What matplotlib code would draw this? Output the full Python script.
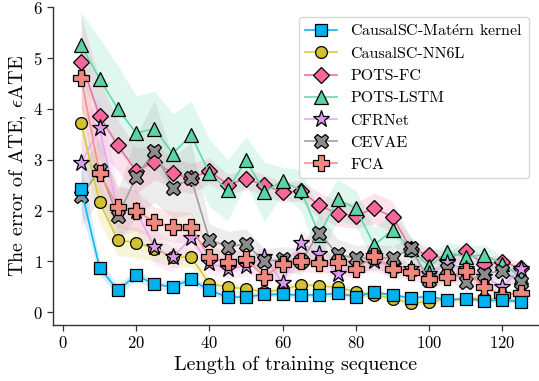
import matplotlib
matplotlib.use('Agg')
import matplotlib.pyplot as plt
import numpy as np

plt.rcParams['font.family'] = ['cmr10', 'DejaVu Serif']
plt.rcParams['mathtext.fontset'] = 'cm'
plt.rcParams['axes.formatter.use_mathtext'] = True

lengths = list(range(5, 130, 5))

# mean error per method
matern = [2.42, 0.88, 0.43, 0.73, 0.55, 0.50, 0.65, 0.43, 0.30, 0.30, 0.35, 0.35, 0.34,
          0.34, 0.37, 0.31, 0.39, 0.34, 0.28, 0.31, 0.24, 0.27, 0.23, 0.24, 0.21]
nn6l = [3.72, 2.16, 1.42, 1.37, 1.25, 1.08, 1.09, 0.56, 0.50, 0.46, 0.40, 0.45, 0.54,
        0.52, 0.49, 0.40, 0.34, 0.27, 0.18, 0.21, 0.25, 0.26, 0.28, 0.25, 0.22]
pots_fc = [4.92, 3.86, 3.28, 2.78, 2.96, 2.73, 2.63, 2.78, 2.51, 2.62, 2.50, 2.36, 2.39,
           2.10, 1.94, 1.90, 2.04, 1.88, 1.25, 1.12, 1.05, 1.20, 0.95, 0.99, 0.87]
pots_lstm = [5.25, 4.59, 4.00, 3.52, 3.61, 3.12, 3.48, 2.74, 2.40, 2.99, 2.37, 2.58, 2.40,
             1.52, 2.22, 2.04, 1.32, 1.62, 1.25, 0.90, 1.18, 1.09, 1.13, 0.95, 0.70]
cfrnet = [2.93, 3.62, 2.00, 2.00, 1.28, 1.08, 1.46, 0.96, 0.86, 0.90, 1.09, 0.57, 1.36,
          1.14, 0.75, 0.95, 1.00, 0.90, 0.85, 0.75, 0.96, 0.85, 0.70, 0.50, 0.86]
cevae = [2.28, 2.80, 1.89, 2.66, 3.17, 2.45, 2.63, 1.43, 1.29, 1.34, 1.00, 1.04, 1.00,
         1.56, 1.14, 1.06, 1.08, 1.06, 1.26, 0.63, 0.85, 0.60, 0.76, 0.81, 0.60]
fca = [4.60, 2.73, 2.07, 2.00, 1.77, 1.68, 1.67, 1.08, 0.98, 1.04, 0.70, 0.95, 1.01,
       0.96, 0.99, 0.86, 1.10, 0.86, 0.80, 0.65, 0.69, 0.82, 0.50, 0.34, 0.38]

# spread of the shaded band
matern_err = [0.45, 0.14, 0.11, 0.10, 0.09, 0.08, 0.08, 0.07, 0.06, 0.06, 0.05, 0.05, 0.05,
              0.05, 0.05, 0.05, 0.05, 0.05, 0.05, 0.05, 0.04, 0.04, 0.04, 0.04, 0.04]
nn6l_err = [0.50, 0.40, 0.30, 0.30, 0.25, 0.20, 0.20, 0.12, 0.10, 0.10, 0.08, 0.08, 0.08,
            0.08, 0.08, 0.07, 0.07, 0.07, 0.06, 0.06, 0.05, 0.05, 0.05, 0.05, 0.05]
pots_fc_err = [0.90, 0.70, 0.50, 0.45, 0.35, 0.30, 0.30, 0.25, 0.20, 0.20, 0.20, 0.20, 0.20,
               0.25, 0.25, 0.25, 0.30, 0.30, 0.20, 0.15, 0.15, 0.15, 0.15, 0.12, 0.12]
pots_lstm_err = [0.65, 0.80, 0.85, 0.73, 0.74, 0.78, 0.67, 0.66, 0.60, 0.46, 0.58, 0.27, 0.40,
                 0.50, 0.40, 0.35, 0.35, 0.30, 0.25, 0.25, 0.20, 0.20, 0.20, 0.15, 0.15]
cfrnet_err = [0.80, 0.60, 0.50, 0.40, 0.35, 0.30, 0.30, 0.20, 0.20, 0.20, 0.20, 0.20, 0.25,
              0.25, 0.20, 0.20, 0.20, 0.20, 0.15, 0.15, 0.15, 0.15, 0.15, 0.12, 0.12]
cevae_err = [0.60, 0.60, 0.50, 0.80, 1.00, 0.60, 0.70, 0.30, 0.30, 0.30, 0.25, 0.25, 0.25,
             0.35, 0.30, 0.25, 0.25, 0.25, 0.20, 0.20, 0.20, 0.20, 0.15, 0.15, 0.15]
fca_err = [0.60, 0.50, 0.40, 0.40, 0.30, 0.30, 0.30, 0.25, 0.20, 0.20, 0.20, 0.20, 0.20,
           0.20, 0.20, 0.20, 0.20, 0.20, 0.15, 0.15, 0.15, 0.15, 0.12, 0.10, 0.10]

methods = [
    ('CausalSC-Mat$\\mathrm{\\acute{e}}$rn kernel', matern, matern_err, '#12b6ee', '#00b3f0', 's', 8.5, 10),
    ('CausalSC-NN6L', nn6l, nn6l_err, '#d8ca3c', '#d2c132', 'o', 8.5, 4),
    ('POTS-FC', pots_fc, pots_fc_err, '#f56ea2', '#f7679c', 'D', 8, 5),
    ('POTS-LSTM', pots_lstm, pots_lstm_err, '#62dbab', '#5ad4a2', '^', 9.5, 6),
    ('CFRNet', cfrnet, cfrnet_err, '#e6a8f5', '#d99cf0', '*', 12.5, 7),
    ('CEVAE', cevae, cevae_err, '#a0a0a0', '#8c8c8c', 'X', 10.5, 8),
    ('FCA', fca, fca_err, '#f4938a', '#f2877d', 'P', 11.5, 9),
]

fig = plt.figure(figsize=(5.39, 3.81), dpi=100)
ax = fig.add_axes([53 / 539, 56 / 381, 486 / 539, 318 / 381])

x = np.array(lengths)
handles = []
for name, mean, err, lc, fc, mk, ms, z in methods:
    m = np.array(mean)
    e = np.array(err)
    ax.fill_between(x, m - e, m + e, color=lc, alpha=0.2, linewidth=0, zorder=1)
    h, = ax.plot(x, m, color=lc, linewidth=1.2, marker=mk, markersize=ms,
                 markerfacecolor=fc, markeredgecolor='black', markeredgewidth=0.9,
                 label=name, zorder=z)
    handles.append(h)

ax.set_xlim(-2.7, 130)
ax.set_ylim(-0.25, 6)
ax.set_xticks([0, 20, 40, 60, 80, 100, 120])
ax.set_yticks([0, 1, 2, 3, 4, 5, 6])
ax.tick_params(labelsize=12, length=4, width=0.9, colors='#333333', labelcolor='black')
for s in ['top', 'right']:
    ax.spines[s].set_visible(False)
for s in ['left', 'bottom']:
    ax.spines[s].set_color('#333333')
    ax.spines[s].set_linewidth(1.0)

ax.set_xlabel('Length of training sequence', fontsize=14.5, labelpad=3)
ax.set_ylabel('The error of ATE, $\\epsilon$ATE', fontsize=14.5, labelpad=3)

ax.legend(handles=handles, loc='upper right', fontsize=11.5, frameon=True,
          fancybox=True, framealpha=0.8, edgecolor='#cccccc',
          handlelength=2.0, borderaxespad=0.6, labelspacing=0.5)

fig.savefig('out.png', dpi=100)
